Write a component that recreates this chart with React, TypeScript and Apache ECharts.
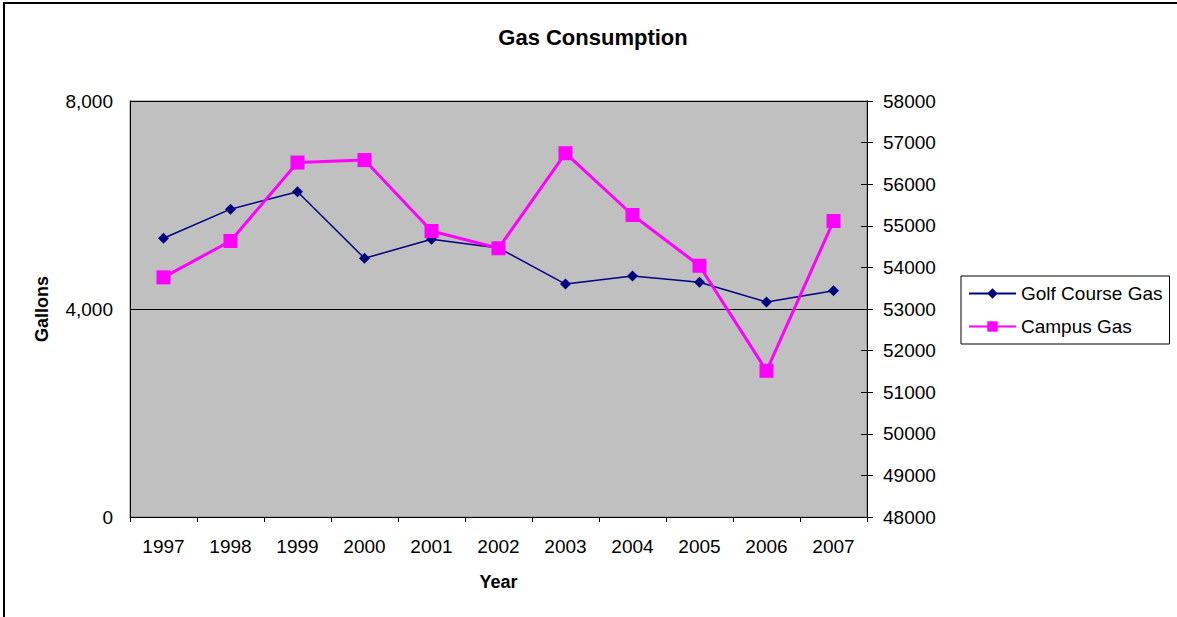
import React, { useEffect, useRef } from "react";
import * as echarts from "echarts";

const years = ["1997", "1998", "1999", "2000", "2001", "2002", "2003", "2004", "2005", "2006", "2007"];
const golfCourseGas = [5360, 5920, 6255, 4975, 5340, 5175, 4480, 4635, 4515, 4135, 4350];
const campusGas = [53760, 54635, 56520, 56580, 54875, 54460, 56745, 55260, 54040, 51515, 55115];

const FONT = "'Liberation Sans', Arial, sans-serif";

export default function App() {
  const ref = useRef<HTMLDivElement>(null);
  useEffect(() => {
    if (!ref.current) return;
    const chart = echarts.init(ref.current, undefined, { renderer: "svg" });
    chart.setOption({
      animation: false,
      backgroundColor: "#ffffff",
      textStyle: { fontFamily: FONT },
      graphic: [
        {
          type: "rect",
          shape: { x: 4, y: 3, width: 1300, height: 800 },
          style: { fill: "none", stroke: "#000", lineWidth: 2 },
          silent: true,
          z: 100,
        },
        {
          type: "text",
          x: 593,
          y: 37,
          style: {
            text: "Gas Consumption",
            font: `bold 22px ${FONT}`,
            fill: "#000",
            textAlign: "center",
            textVerticalAlign: "middle",
          },
        },
      ],
      legend: {
        orient: "vertical",
        left: 961,
        top: 276,
        padding: [8, 7, 8, 7],
        itemWidth: 47,
        itemHeight: 13,
        itemGap: 14,
        borderColor: "#000",
        borderWidth: 1,
        backgroundColor: "#fff",
        textStyle: { fontSize: 19, color: "#000", fontFamily: FONT },
        data: ["Golf Course Gas", "Campus Gas"],
      },
      grid: {
        left: 130,
        top: 101,
        width: 737,
        height: 416,
        show: true,
        backgroundColor: "#C0C0C0",
        borderColor: "#808080",
        borderWidth: 1,
      },
      xAxis: {
        type: "category",
        data: years,
        boundaryGap: true,
        name: "Year",
        nameLocation: "middle",
        nameGap: 56,
        nameTextStyle: { fontSize: 18, fontWeight: "bold", color: "#000", fontFamily: FONT },
        axisLine: { lineStyle: { color: "#000", width: 1 } },
        axisTick: { show: true, length: 5, lineStyle: { color: "#000" } },
        axisLabel: { fontSize: 19, color: "#000", margin: 20, fontFamily: FONT },
        splitLine: { show: false },
      },
      yAxis: [
        {
          type: "value",
          position: "left",
          min: 0,
          max: 8000,
          interval: 4000,
          name: "Gallons",
          nameLocation: "middle",
          nameGap: 79,
          nameTextStyle: { fontSize: 18, fontWeight: "bold", color: "#000", fontFamily: FONT },
          axisLine: { show: true, lineStyle: { color: "#000", width: 1 } },
          axisTick: { show: true, inside: true, length: 6, lineStyle: { color: "#000" } },
          axisLabel: {
            fontSize: 19,
            color: "#000",
            margin: 17,
            fontFamily: FONT,
            formatter: (v: number) => v.toLocaleString("en-US"),
          },
          splitLine: { show: true, lineStyle: { color: "#000", width: 1 } },
        },
        {
          type: "value",
          position: "right",
          min: 48000,
          max: 58000,
          interval: 1000,
          axisLine: { show: true, lineStyle: { color: "#000", width: 1 } },
          axisTick: { show: true, length: 6, lineStyle: { color: "#000" } },
          axisLabel: {
            fontSize: 19,
            color: "#000",
            margin: 16,
            fontFamily: FONT,
            formatter: (v: number) => String(v),
          },
          splitLine: { show: false },
        },
        {
          type: "value",
          position: "right",
          min: 48000,
          max: 58000,
          interval: 1000,
          axisLine: { show: true, lineStyle: { color: "#000", width: 1 } },
          axisTick: { show: true, inside: true, length: 6, lineStyle: { color: "#000" } },
          axisLabel: { show: false },
          splitLine: { show: false },
        },
      ],
      series: [
        {
          name: "Golf Course Gas",
          type: "line",
          yAxisIndex: 0,
          data: golfCourseGas,
          symbol: "diamond",
          symbolSize: 11,
          itemStyle: { color: "#000080" },
          lineStyle: { color: "#000080", width: 1.5 },
        },
        {
          name: "Campus Gas",
          type: "line",
          yAxisIndex: 1,
          data: campusGas,
          symbol: "rect",
          symbolSize: 14,
          itemStyle: { color: "#FF00FF" },
          lineStyle: { color: "#FF00FF", width: 3 },
        },
      ],
    });
    return () => chart.dispose();
  }, []);
  return <div ref={ref} style={{ position: "absolute", left: 0, top: 0, width: 1177, height: 617 }} />;
}
